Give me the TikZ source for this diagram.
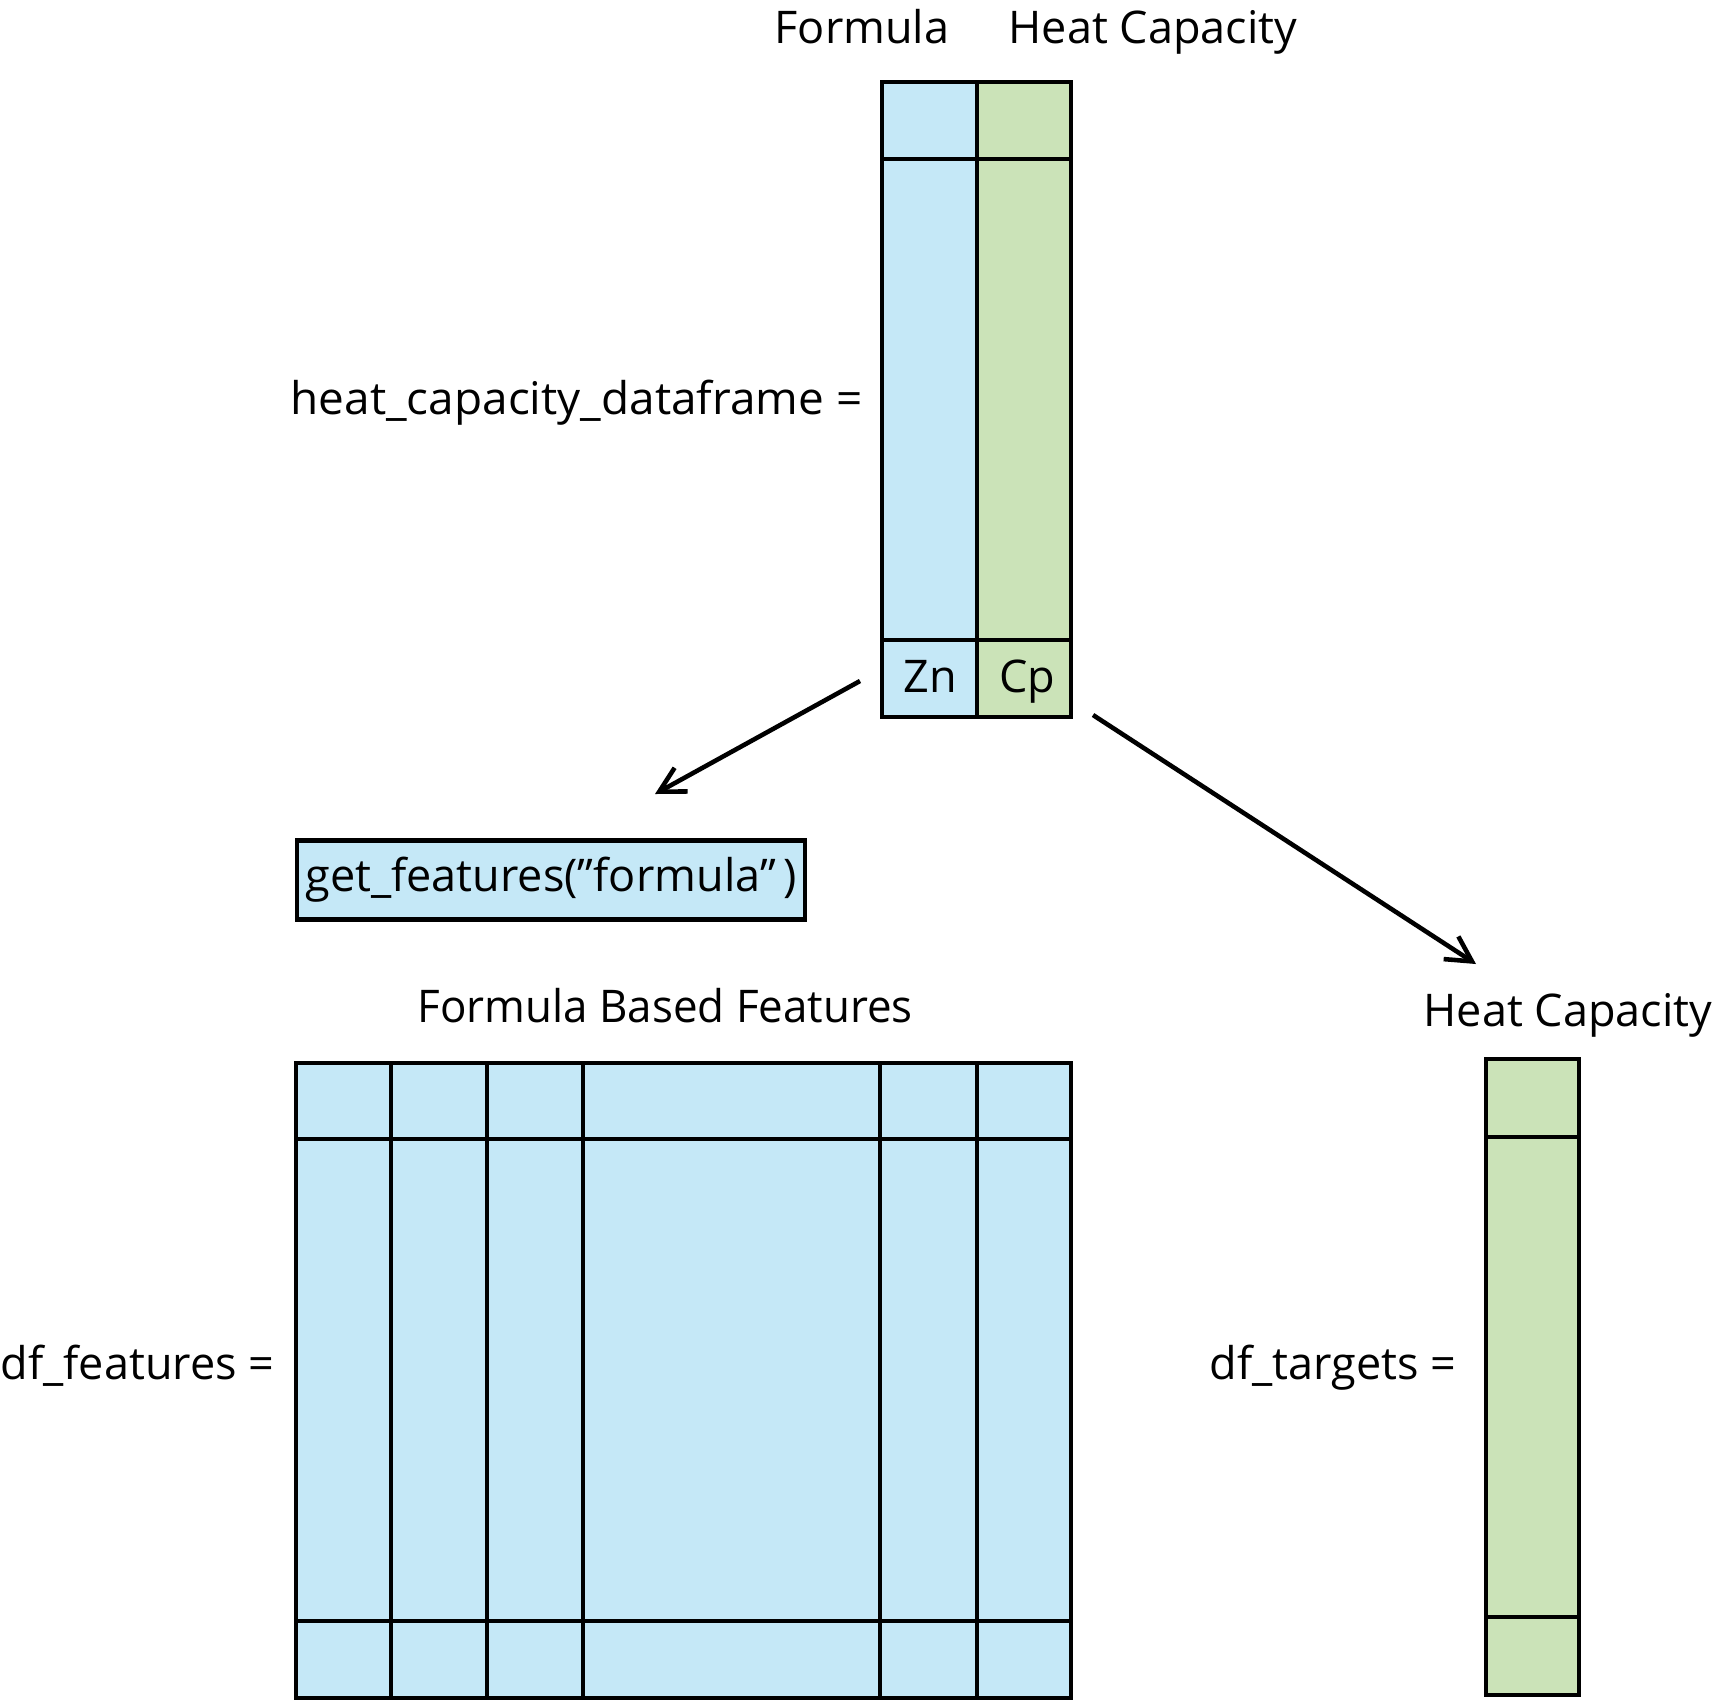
\documentclass[tikz,border=0pt]{standalone}
\usepackage{fontspec}
\setmainfont{Open Sans}
\usetikzlibrary{arrows.meta}
\definecolor{cellblue}{RGB}{197,232,247}
\definecolor{cellgreen}{RGB}{203,227,184}
\begin{document}
\begin{tikzpicture}[x=0.01cm,y=-0.01cm,
  outer/.style={line width=1.35pt},
  inner/.style={line width=1.0pt},
  txt/.style={font=\fontsize{12.8}{15}\selectfont, inner sep=0pt},
  lbl/.style={txt, anchor=base west},
  arr/.style={line width=1.3pt, -{Straight Barb[length=0.25cm,width=0.27cm]}}]
\useasboundingbox (0,0) rectangle (1712,1702);

% ---- top table: heat_capacity_dataframe
\fill[cellblue] (882,82) rectangle (977,717);
\fill[cellgreen] (977,82) rectangle (1071,717);
\draw[inner] (882,159) -- (1071,159) (882,640) -- (1071,640) (977,82) -- (977,717);
\draw[outer] (882,82) rectangle (1071,717);

\node[lbl] (formula) at (774,43) {Formula};
\node[lbl] (hctop) at (1008,43) {Heat Capacity};
\node[lbl, xscale=1.02] (hcdf) at (290,414) {heat\_capacity\_dataframe =};
\node[txt, anchor=base] (zn) at (930,692) {Zn};
\node[txt, anchor=base] (cp) at (1027,692) {Cp};

% ---- function box
\node[txt, draw, outer, fill=cellblue, minimum width=5.075cm, minimum height=0.785cm] (gf) at (551,880) {get\_features(”formula”\,)};

% ---- arrows
\coordinate (a1s) at (860,681);
\coordinate (a1e) at (655,794);
\coordinate (a2s) at (1093,715);
\coordinate (a2e) at (1476,964);
\draw[arr] (a1s) -- (a1e);
\draw[arr] (a2s) -- (a2e);

% ---- bottom left table: df_features
\node[lbl, xscale=0.975] (fbf) at (417,1022) {Formula Based Features};
\fill[cellblue] (296,1063) rectangle (1071,1698);
\draw[inner] (296,1139) -- (1071,1139) (296,1621) -- (1071,1621);
\foreach \cx in {391,487,583,880,977} \draw[inner] (\cx,1063) -- (\cx,1698);
\draw[outer] (296,1063) rectangle (1071,1698);
\node[lbl] (dff) at (0,1379) {df\_features =};

% ---- right table: df_targets
\node[lbl] (hcright) at (1423,1026) {Heat Capacity};
\fill[cellgreen] (1486,1059) rectangle (1579,1695);
\draw[inner] (1486,1137) -- (1579,1137) (1486,1617) -- (1579,1617);
\draw[outer] (1486,1059) rectangle (1579,1695);
\node[lbl] (dft) at (1209,1379) {df\_targets =};
\end{tikzpicture}
\end{document}
